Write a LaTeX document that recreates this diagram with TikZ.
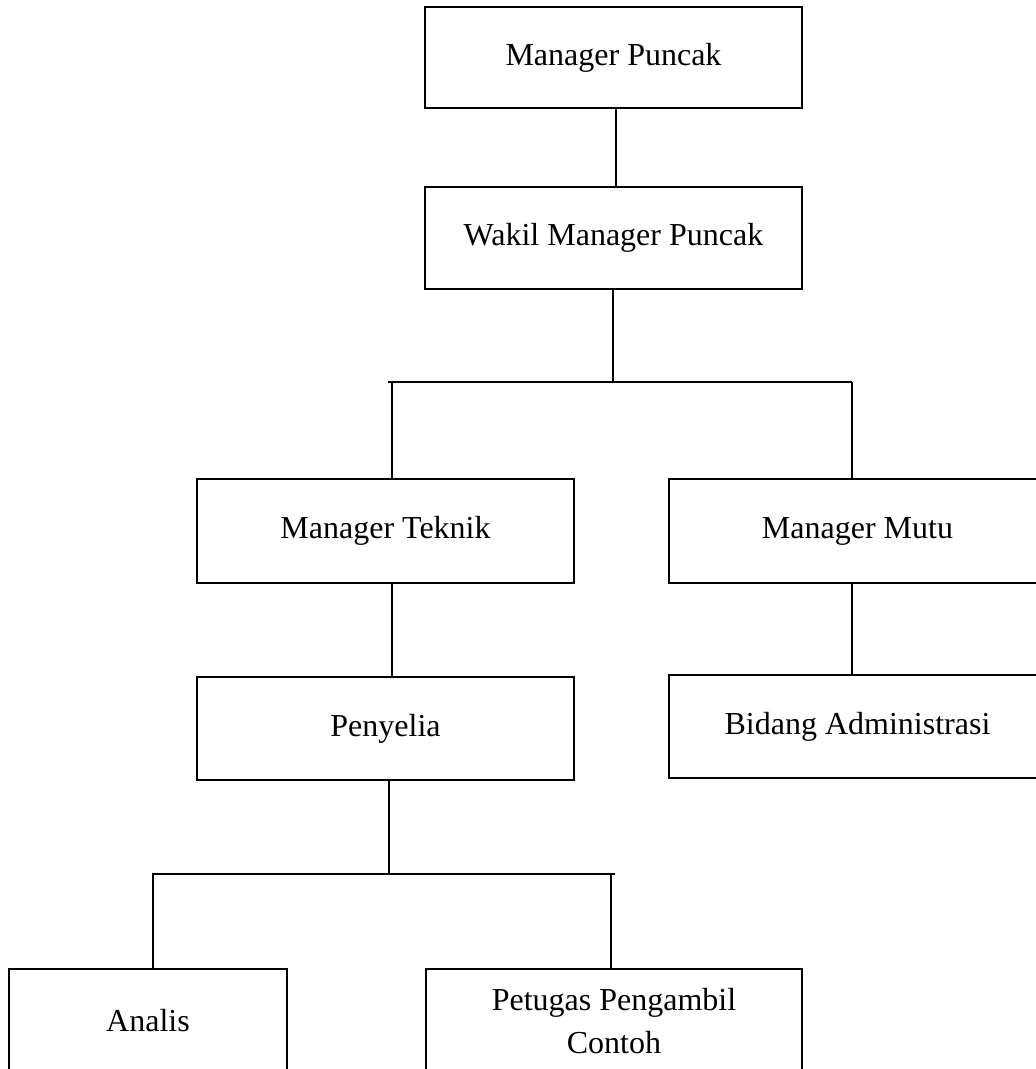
\documentclass[tikz,border=0pt]{standalone}
\usepackage{fontspec}
\setmainfont{Liberation Serif}
\begin{document}
\begin{tikzpicture}[x=1pt,y=-1pt,
  box/.style={draw=black,line width=1.6pt,inner sep=0pt,outer sep=0pt,
    minimum width=377pt,minimum height=103pt,align=center,
    font=\fontsize{32}{42.5}\selectfont},
  conn/.style={draw=black,line width=1.5pt}]
\useasboundingbox (0,0) rectangle (1036,1069);
\clip (0,0) rectangle (1036,1069);
\node[box,minimum height=101pt] (mp) at (613.5,57.5) {Manager Puncak};
\node[box,minimum height=102pt] (wmp) at (613.5,238) {Wakil Manager Puncak};
\node[box,minimum height=104pt] (mt) at (385.5,531) {Manager Teknik};
\node[box,minimum height=104pt] (mm) at (857.5,531) {Manager Mutu};
\node[box] (pen) at (385.5,728.5) {Penyelia};
\node[box] (bid) at (857.5,726.5) {Bidang Administrasi};
\node[box,minimum width=278pt,minimum height=104pt] (an) at (148,1021) {Analis};
\node[box,minimum width=376pt,minimum height=104pt] (pet) at (614,1021) {Petugas Pengambil\\Contoh};
% upper bar
\coordinate (b1l) at (388,382);
\coordinate (b1r) at (852,382);
\coordinate (d1l) at (392,382);
\coordinate (d1r) at (852,382);
\coordinate (d1c) at (613,382);
% lower bar
\coordinate (b2l) at (152,874);
\coordinate (b2r) at (615,874);
\coordinate (d2l) at (153,874);
\coordinate (d2r) at (611,874);
\coordinate (d2c) at (389,874);
\draw[conn] (mp.south -| 616,0) -- (wmp.north -| 616,0);
\draw[conn] (wmp.south -| d1c) -- (d1c);
\draw[conn] (b1l) -- (b1r);
\draw[conn] (d1l) -- (d1l |- mt.north);
\draw[conn] (d1r) -- (d1r |- mm.north);
\draw[conn] (d1l |- mt.south) -- (d1l |- pen.north);
\draw[conn] (d1r |- mm.south) -- (d1r |- bid.north);
\draw[conn] (d2c |- pen.south) -- (d2c);
\draw[conn] (b2l) -- (b2r);
\draw[conn] (d2l) -- (d2l |- an.north);
\draw[conn] (d2r) -- (d2r |- pet.north);
\end{tikzpicture}
\end{document}
